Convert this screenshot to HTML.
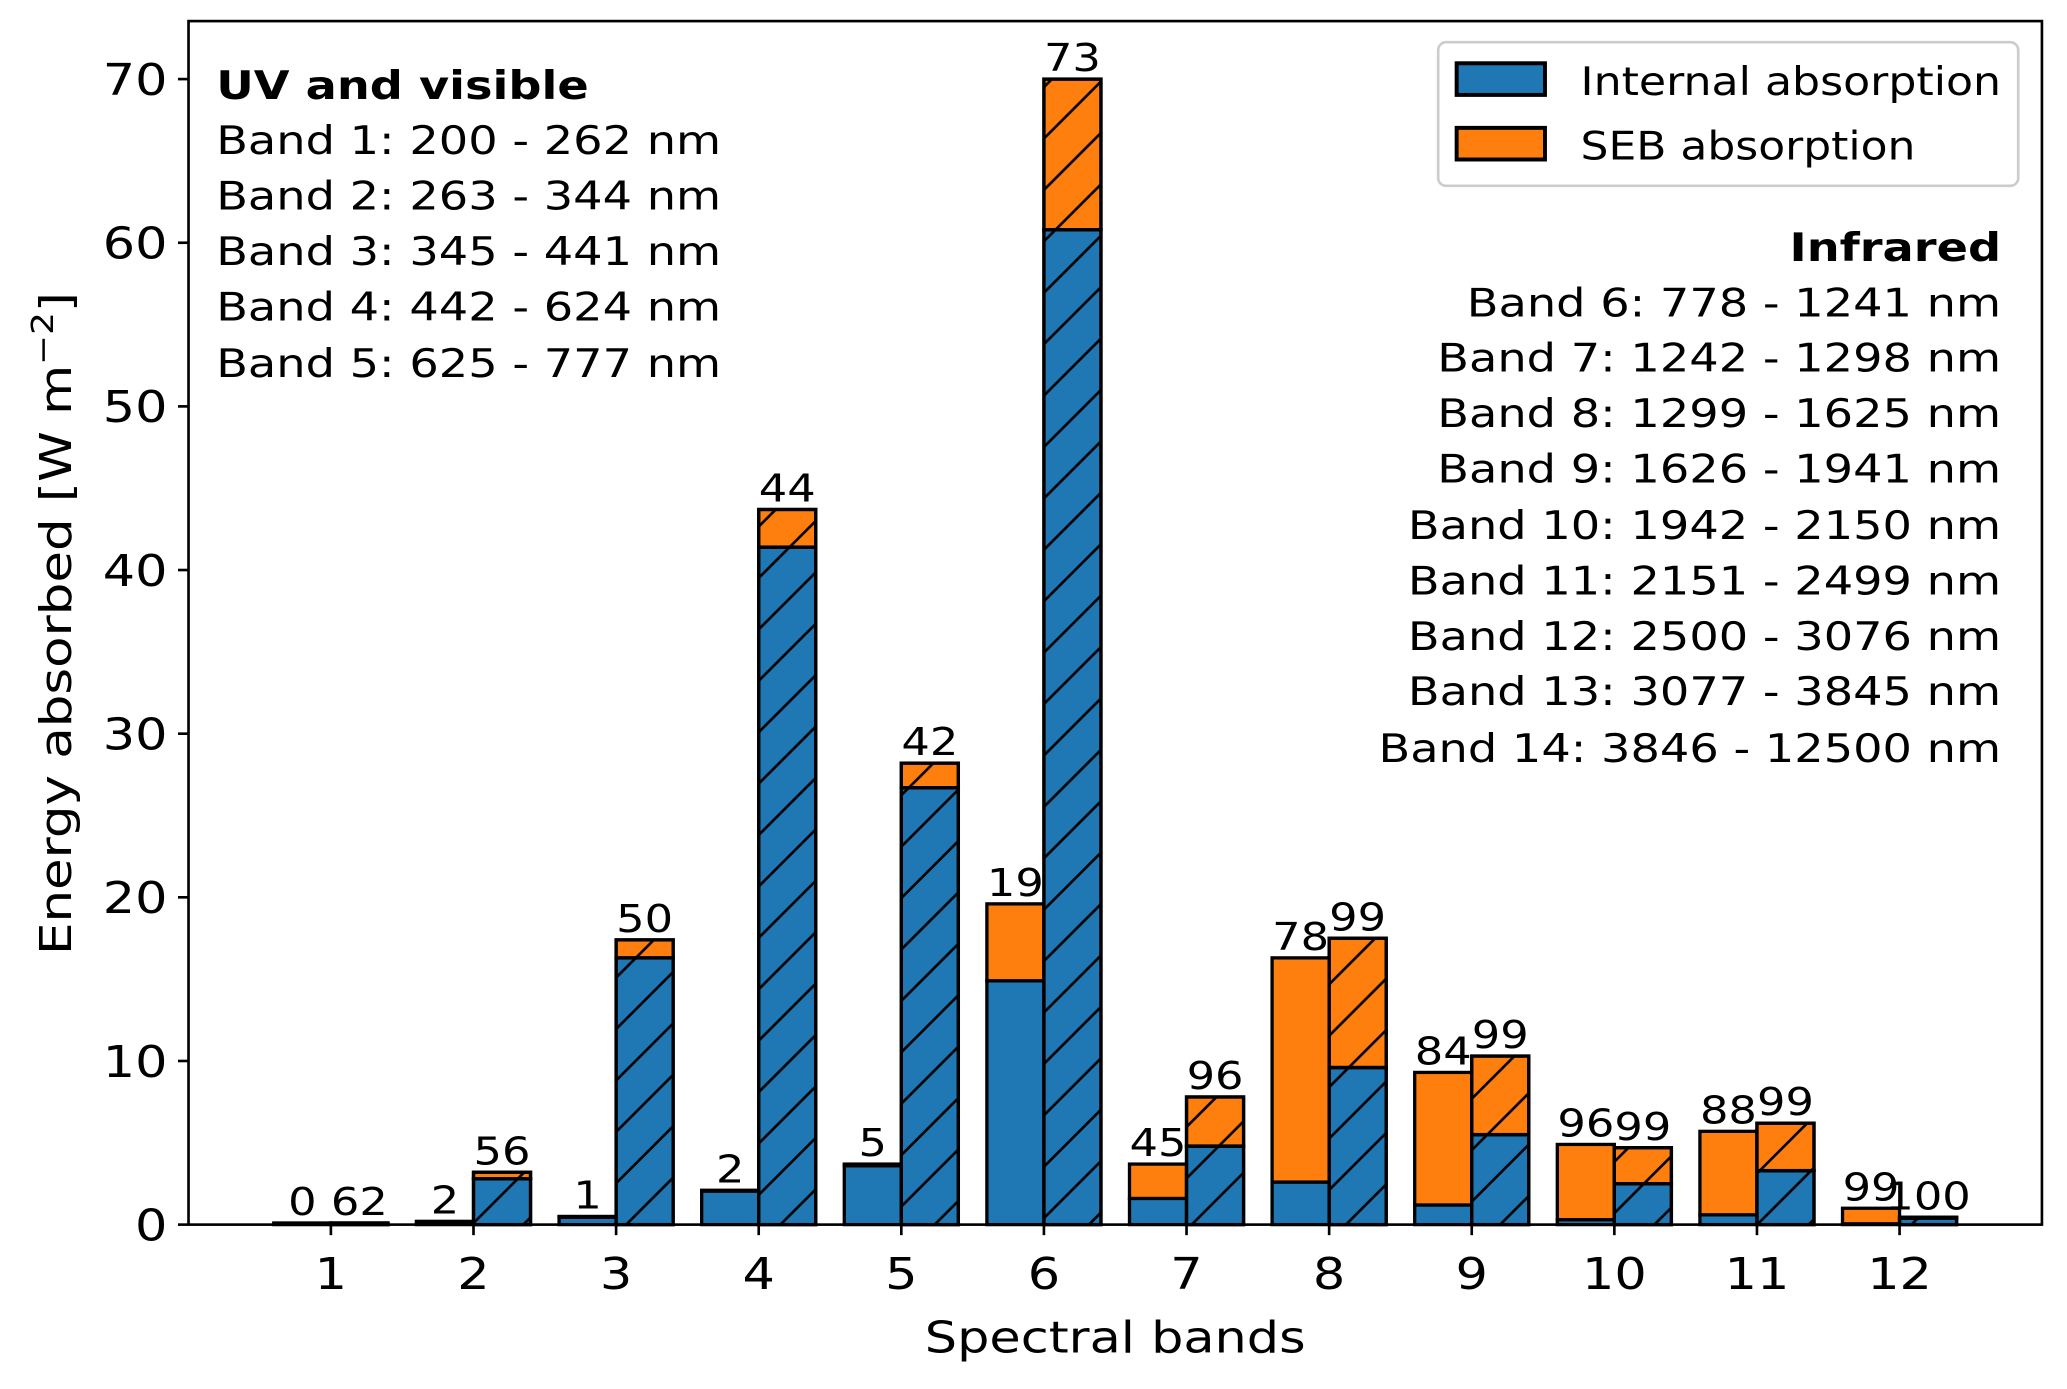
<!DOCTYPE html>
<html><head><meta charset="utf-8">
<style>
html,body{margin:0;padding:0;background:#fff;}
svg{display:block;font-family:"DejaVu Sans","Liberation Sans",sans-serif;}
</style></head>
<body>
<svg id="chart" width="2067" height="1389" viewBox="0 0 1568 1053.7" xmlns="http://www.w3.org/2000/svg">
<defs>
<pattern id="hatch" patternUnits="userSpaceOnUse" width="39" height="39">
<path d="M-5,5 L5,-5 M0,39 L39,0 M34,44 L44,34" stroke="#000" stroke-width="2"/>
</pattern>
</defs>
<rect x="0" y="0" width="1568" height="1053.7" fill="#fff"/>
<g id="bars"></g>
<g id="labels"></g>
<rect x="143" y="16" width="1406" height="913" fill="none" stroke="#000" stroke-width="2"/>
<g id="yticks"></g>
<g id="xticks"></g>
<text class="s" x="846" y="1026" font-size="33" text-anchor="middle">Spectral bands</text>
<text id="ytitle" transform="translate(54,473) rotate(-90)" font-size="33" text-anchor="middle" textLength="503" lengthAdjust="spacingAndGlyphs">Energy absorbed [W m<tspan dy="-14" font-size="23">−2</tspan><tspan dy="14">]</tspan></text>
<g font-size="30">
<text class="s" x="164" y="75" font-weight="bold">UV and visible</text>
<text class="s" x="164" y="117">Band 1: 200 - 262 nm</text>
<text class="s" x="164" y="159">Band 2: 263 - 344 nm</text>
<text class="s" x="164" y="201">Band 3: 345 - 441 nm</text>
<text class="s" x="164" y="243">Band 4: 442 - 624 nm</text>
<text class="s" x="164" y="286">Band 5: 625 - 777 nm</text>
</g>
<g font-size="30" text-anchor="end">
<text class="s" x="1518" y="198" font-weight="bold">Infrared</text>
<text class="s" x="1518" y="240">Band 6: 778 - 1241 nm</text>
<text class="s" x="1518" y="282">Band 7: 1242 - 1298 nm</text>
<text class="s" x="1518" y="324">Band 8: 1299 - 1625 nm</text>
<text class="s" x="1518" y="366">Band 9: 1626 - 1941 nm</text>
<text class="s" x="1518" y="409">Band 10: 1942 - 2150 nm</text>
<text class="s" x="1518" y="451">Band 11: 2151 - 2499 nm</text>
<text class="s" x="1518" y="493">Band 12: 2500 - 3076 nm</text>
<text class="s" x="1518" y="535">Band 13: 3077 - 3845 nm</text>
<text class="s" x="1518" y="578">Band 14: 3846 - 12500 nm</text>
</g>
<g>
<rect x="1091" y="32" width="440" height="109" rx="6" fill="#fff" stroke="#ccc" stroke-width="2"/>
<g>
<rect x="1105" y="48" width="67" height="24" fill="#1f77b4" stroke="#000" stroke-width="3"/>
<text x="1199" y="72" font-size="30" textLength="319" lengthAdjust="spacingAndGlyphs">Internal absorption</text>
</g>
<g>
<rect x="1105" y="97" width="67" height="24" fill="#ff7f0e" stroke="#000" stroke-width="3"/>
<text x="1199" y="121" font-size="30" textLength="254" lengthAdjust="spacingAndGlyphs">SEB absorption</text>
</g>
</g>
</svg>
<script>
const bands = [1,2,3,4,5,6,7,8,9,10,11,12];
const leftTotal   = [0.1,0.2,0.5,2.1,3.7,19.6,3.7,16.3,9.3,4.9,5.7,1.0];
const leftBlue    = [0.08,0.18,0.45,2.05,3.6,14.9,1.6,2.6,1.2,0.3,0.6,0.05];
const rightTotal  = [0.1,3.2,17.4,43.7,28.2,70.0,7.8,17.5,10.3,4.7,6.2,0.45];
const rightBlue   = [0.09,2.8,16.3,41.4,26.7,60.8,4.8,9.6,5.5,2.5,3.3,0.4];
const leftLabels  = ["0","2","1","2","5","19","45","78","84","96","88","99"];
const rightLabels = ["62","56","50","44","42","73","96","99","99","99","99","100"];
const yTicks = [0,10,20,30,40,50,60,70];

const NS = "http://www.w3.org/2000/svg";
const X0 = 251, DX = (1441-251)/11;
const Y0 = 929, DY = (929-60)/70;
function xs(v){ return X0 + (v-1)*DX; }
function ys(v){ return Y0 - v*DY; }
const W = 0.4*DX;
function mk(tag, attrs, parent){
  const e = document.createElementNS(NS, tag);
  for (const k in attrs) e.setAttribute(k, attrs[k]);
  parent.appendChild(e);
  return e;
}
const gb = document.getElementById('bars');
const gl = document.getElementById('labels');
function seg(x, lo, hi, fill, hatch, name){
  const r = mk('rect', {x:x, y:ys(hi), width:W, height:Math.max(0, ys(lo)-ys(hi)), fill:fill, stroke:'#000', 'stroke-width':2.5}, gb);
  
  
  if (hatch){
    const h = mk('rect', {x:x, y:ys(hi), width:W, height:Math.max(0, ys(lo)-ys(hi)), fill:'url(#hatch)', stroke:'#000', 'stroke-width':2.5}, gb);
    
    
  }
}
bands.forEach((b,i)=>{
  const xl = xs(b) - W, xr = xs(b);
  seg(xl, 0, leftBlue[i], '#1f77b4', false, 'bar-internal-left-' + b);
  seg(xl, leftBlue[i], leftTotal[i], '#ff7f0e', false, 'bar-seb-left-' + b);
  seg(xr, 0, rightBlue[i], '#1f77b4', true, 'bar-internal-right-' + b);
  seg(xr, rightBlue[i], rightTotal[i], '#ff7f0e', true, 'bar-seb-right-' + b);
  const t1 = mk('text', {x:xl+W/2, y:ys(leftTotal[i])-6, 'font-size':29, 'text-anchor':'middle', 'class':'s'}, gl);
  t1.textContent = leftLabels[i];
  
  
  const t2 = mk('text', {x:xr+W/2, y:ys(rightTotal[i])-6, 'font-size':29, 'text-anchor':'middle', 'class':'s'}, gl);
  t2.textContent = rightLabels[i];
  
  
});
const gy = document.getElementById('yticks');
yTicks.forEach(v=>{
  const l = mk('line', {x1:135, x2:143, y1:ys(v), y2:ys(v), stroke:'#000', 'stroke-width':2}, gy);
  
  
  const t = mk('text', {x:127, y:ys(v)+12, 'font-size':33, 'text-anchor':'end', 'class':'s'}, gy);
  t.textContent = v;
  
  
});
const gx = document.getElementById('xticks');
bands.forEach(b=>{
  const l = mk('line', {x1:xs(b), x2:xs(b), y1:929, y2:937, stroke:'#000', 'stroke-width':2}, gx);
  
  
  const t = mk('text', {x:xs(b), y:978, 'font-size':33, 'text-anchor':'middle', 'class':'s'}, gx);
  t.textContent = b;
  
  
});
// horizontal stretch to match the reference's wider glyphs
document.querySelectorAll('text.s').forEach(t=>{
  const w = t.getComputedTextLength();
  t.setAttribute('textLength', (w*1.17).toFixed(1));
  t.setAttribute('lengthAdjust', 'spacingAndGlyphs');
});
</script>
</body></html>
